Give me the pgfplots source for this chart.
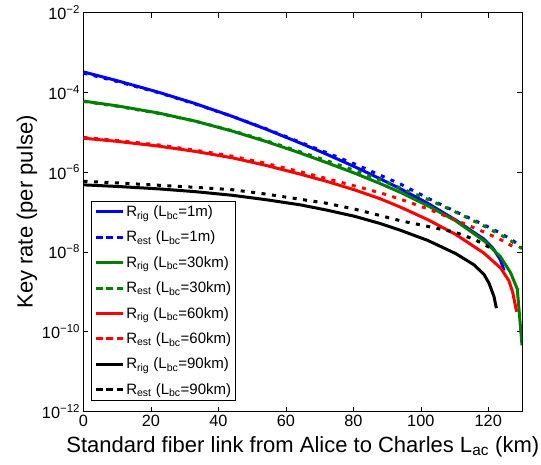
\documentclass[border=0pt]{standalone}
\usepackage{pgfplots}
\pgfplotsset{compat=1.18}
\usepackage{fontspec}
\setmainfont{Liberation Sans}
\definecolor{mgreen}{rgb}{0,0.5,0}
\newcommand{\tp}[1]{10\textsuperscript{−#1}}
\begin{document}
\begin{tikzpicture}
\begin{axis}[
  at={(0,0)}, anchor=south west,
  scale only axis, width=438.5pt, height=399pt,
  xmin=0, xmax=130, ymin=1e-12, ymax=1e-2, ymode=log,
  xtick={0,20,40,60,80,100,120},
  ytick={1e-12,1e-10,1e-8,1e-6,1e-4,1e-2},
  yticklabels={\tp{12},\tp{10},\tp{8},\tp{6},\tp{4},\tp{2}},
  minor ytick={}, yminorticks=false,
  /pgf/number format/assume math mode=true,
  tick align=inside, major tick length=5pt,
  every tick/.style={black, line width=0.6pt},
  axis line style={line width=0.8pt},
  ticklabel style={font=\fontsize{16.3}{19}\selectfont},
  xlabel={Standard fiber link from Alice to Charles L\textsubscript{ac} (km)},
  ylabel={Key rate (per pulse)},
  label style={font=\fontsize{22}{26}\selectfont},
  xlabel style={yshift=-3pt},
  ylabel style={yshift=-2pt},
  legend cell align=left,
  legend style={at={(0.018,0.528)}, anchor=north west, draw=black, line width=0.8pt, fill=white,
    font=\fontsize{15}{17}\selectfont, row sep=9pt, inner sep=2.5pt},
  legend image code/.code={\draw[#1] (0pt,0pt) -- (27pt,0pt);},
  every axis plot/.append style={line width=3pt, line cap=butt},
]
\addplot[blue] coordinates {(0,3.24e-4) (10,1.95e-4) (22.3,1e-4) (33,5.25e-5) (44,2.51e-5) (54,1.202e-5) (64.2,5.37e-6) (72,2.82e-6) (80.5,1.349e-6) (88,6.76e-7) (94,3.80e-7) (102,1.660e-7) (110.3,6.31e-8) (118.7,2.09e-8) (121.5,1.202e-8) (123.6,6.31e-9) (124.7,3.39e-9)};
\addlegendentry{R\textsubscript{rig} (L\textsubscript{bc}=1m)}
\addplot[blue, dash pattern=on 4pt off 6.5pt, legend image post style={dash pattern=on 7pt off 3.5pt}] coordinates {(0,3.02e-4) (10,1.862e-4) (22.3,9.77e-5) (33,5.13e-5) (44,2.51e-5) (54,1.230e-5) (64.2,5.62e-6) (72,3.09e-6) (80.5,1.585e-6) (88,8.32e-7) (94,5.01e-7) (102,2.24e-7) (110.3,1.023e-7) (118.7,4.79e-8) (123.6,2.95e-8) (127,2.0e-8) (130,1.318e-8)};
\addlegendentry{R\textsubscript{est} (L\textsubscript{bc}=1m)}
\addplot[mgreen] coordinates {(0,6.03e-5) (10,4.57e-5) (22.3,3.02e-5) (33,1.905e-5) (44,1.072e-5) (54,5.89e-6) (64.2,3.02e-6) (72,1.738e-6) (80.5,9.33e-7) (88,5.13e-7) (94,3.09e-7) (102,1.445e-7) (110.3,6.03e-8) (118.7,1.905e-8) (123.6,7.59e-9) (126.6,3.02e-9) (128.6,1.175e-9) (130,4.57e-11)};
\addlegendentry{R\textsubscript{rig} (L\textsubscript{bc}=30km)}
\addplot[mgreen, dash pattern=on 4pt off 6.5pt, legend image post style={dash pattern=on 7pt off 3.5pt}] coordinates {(0,5.89e-5) (10,4.47e-5) (22.3,2.95e-5) (33,1.905e-5) (44,1.096e-5) (54,6.17e-6) (64.2,3.24e-6) (72,1.950e-6) (80.5,1.096e-6) (88,6.31e-7) (94,3.98e-7) (102,2.09e-7) (110.3,1e-7) (118.7,4.47e-8) (123.6,2.69e-8) (126.6,1.905e-8) (130,1.202e-8)};
\addlegendentry{R\textsubscript{est} (L\textsubscript{bc}=30km)}
\addplot[red] coordinates {(0,7.08e-6) (10,5.89e-6) (22.3,4.47e-6) (33,3.31e-6) (44,2.29e-6) (54,1.479e-6) (64.2,8.91e-7) (72,5.89e-7) (80.5,3.55e-7) (88,2.14e-7) (94,1.318e-7) (102,6.46e-8) (110.3,2.75e-8) (118.7,9.33e-9) (123.6,3.98e-9) (126.1,1.905e-9) (127.2,1e-9) (128.4,3.16e-10)};
\addlegendentry{R\textsubscript{rig} (L\textsubscript{bc}=60km)}
\addplot[red, dash pattern=on 4pt off 6.5pt, legend image post style={dash pattern=on 7pt off 3.5pt}] coordinates {(0,7.41e-6) (10,6.17e-6) (22.3,4.79e-6) (33,3.55e-6) (44,2.51e-6) (54,1.660e-6) (64.2,1.023e-6) (72,6.92e-7) (80.5,4.47e-7) (88,3.02e-7) (94,2.09e-7) (102,1.202e-7) (110.3,6.31e-8) (118.7,3.16e-8) (123.6,2.04e-8) (127.6,1.318e-8)};
\addlegendentry{R\textsubscript{est} (L\textsubscript{bc}=60km)}
\addplot[black] coordinates {(0,4.79e-7) (10,4.37e-7) (22.3,3.80e-7) (33,3.24e-7) (44,2.63e-7) (54,2.04e-7) (64.2,1.514e-7) (72,1.122e-7) (80.5,7.76e-8) (88,5.13e-8) (94,3.47e-8) (102,1.950e-8) (110.3,9.12e-9) (115.7,4.79e-9) (118.7,2.75e-9) (120.2,1.660e-9) (121.7,7.59e-10) (122.4,3.89e-10)};
\addlegendentry{R\textsubscript{rig} (L\textsubscript{bc}=90km)}
\addplot[black, dash pattern=on 4pt off 6.5pt, legend image post style={dash pattern=on 7pt off 3.5pt}] coordinates {(0,5.89e-7) (10,5.37e-7) (22.3,4.68e-7) (33,4.17e-7) (44,3.63e-7) (54,2.82e-7) (64.2,2.09e-7) (72,1.66e-7) (80.5,1.175e-7) (88,8.13e-8) (94,6.03e-8) (102,4.37e-8) (110.3,3.09e-8) (116.2,2.0e-8) (121.3,1.175e-8)};
\addlegendentry{R\textsubscript{est} (L\textsubscript{bc}=90km)}
\end{axis}
\pgfresetboundingbox
\path[use as bounding box] (-83.5pt,-53.5pt) rectangle (457.5pt,411.5pt);
\end{tikzpicture}
\end{document}
